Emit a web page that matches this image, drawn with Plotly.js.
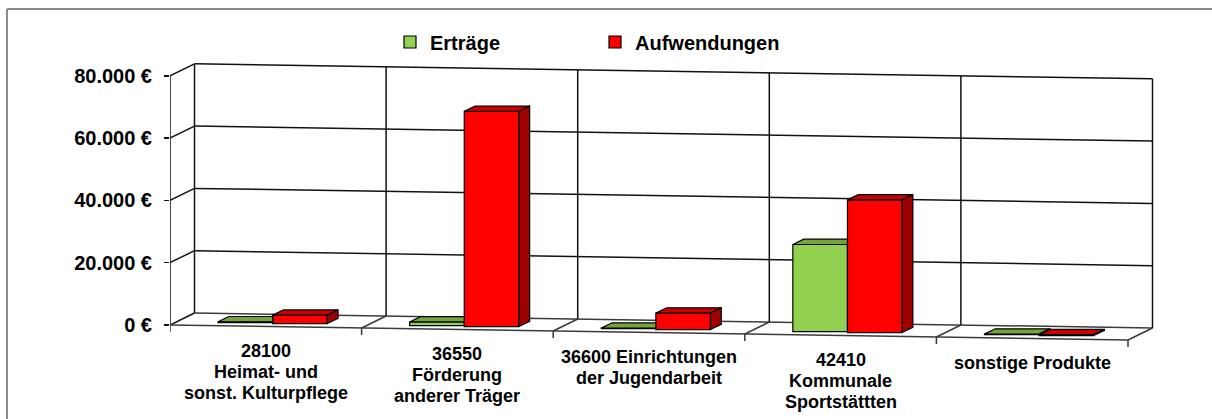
<!DOCTYPE html>
<html>
<head>
<meta charset="utf-8">
<script src="https://cdn.plot.ly/plotly-3.0.1.min.js"></script>
<style>html,body{margin:0;padding:0;background:#fff;overflow:hidden;}#chart{width:1212px;height:419px;}</style>
</head>
<body>
<div id="chart"></div>
<script>
// ---- data ----
const categories = [
  ['28100', 'Heimat- und', 'sonst. Kulturpflege'],
  ['36550', 'Förderung', 'anderer Träger'],
  ['36600 Einrichtungen', 'der Jugendarbeit'],
  ['42410', 'Kommunale', 'Sportstättten'],
  ['sonstige Produkte']
];
const seriesNames = ['Erträge', 'Aufwendungen'];
const ertraege = [300, 1200, 200, 28000, 200];
const aufwendungen = [2700, 69100, 5300, 42600, 300];
const yTicks = [0, 20000, 40000, 60000, 80000];
const yTickLabels = ['0 €', '20.000 €', '40.000 €', '60.000 €', '80.000 €'];

// ---- styling / pseudo-3D geometry ----
const FONT = 'Liberation Sans, Arial, sans-serif';
const PL = 170, PR = 1165, PT = 55, PB = 350, ZERO = 325;
const CAT_PX = 191.6;
const K = 62.3 / 20000;            // px per value unit
const DEPTH_X = 24.5 / CAT_PX;     // full depth, in category units
const DEPTH_Y = 12 / K;            // full depth, in value units (upwards)
const SLOPE = 3.0 / K;             // per category unit, value units (downwards)
const NC = categories.length;
const YMAX = yTicks[yTicks.length - 1];

function P(u, v, d) { return [u + d * DEPTH_X, v - u * SLOPE + d * DEPTH_Y]; }

const shapes = [];
function seg(a, b, color, width) {
  shapes.push({type: 'line', xref: 'x', yref: 'y', layer: 'below',
    x0: a[0], y0: a[1], x1: b[0], y1: b[1], line: {color: color, width: width}});
}
const GRID = '#111111', FLOOR = '#3a3a3a';
yTicks.forEach(v => {
  seg(P(0, v, 1), P(NC, v, 1), v === 0 ? FLOOR : GRID, 1.5);
  seg(P(0, v, 0), P(0, v, 1), GRID, 1.5);
});
for (let u = 0; u <= NC; u++) {
  seg(P(u, 0, 1), P(u, YMAX, 1), GRID, 1.5);
  if (u > 0) seg(P(u, 0, 0), P(u, 0, 1), FLOOR, 1.5);
  const f = P(u, 0, 0);
  seg(f, [f[0], f[1] - 7 / K], FLOOR, 1.5);
}
seg(P(0, 0, 0), P(NC, 0, 0), FLOOR, 1.5);
seg(P(0, 0, 0), P(0, YMAX, 0), GRID, 1.5);

// outer frame (top and left edges visible)
const pw = PR - PL, ph = PB - PT;
const fx0 = (7 - PL) / pw, fx1 = (1240 - PL) / pw, fy0 = (PB - 9) / ph, fy1 = (PB - 450) / ph;
shapes.push({type: 'line', xref: 'paper', yref: 'paper', layer: 'below', x0: fx0, x1: fx1, y0: fy0, y1: fy0,
  line: {color: '#8a8a8a', width: 2}});
shapes.push({type: 'line', xref: 'paper', yref: 'paper', layer: 'below', x0: fx0, x1: fx0, y0: fy0, y1: fy1,
  line: {color: '#8a8a8a', width: 2}});

// ---- bars ----
const GROUP_START = 0.215, BW = 0.285, DF = 0.28, DB = 0.72;
const DDX = (DB - DF) * DEPTH_X, DDY = (DB - DF) * DEPTH_Y;
const colors = [
  {front: '#92D050', top: '#74A53A', side: '#5E8A2E'},
  {front: '#FF0000', top: '#CC0000', side: '#A00000'}
];
const allVals = [ertraege, aufwendungen];

function barGeom(i, s) {
  const uL = i + GROUP_START + s * BW, uR = uL + BW, uc = (uL + uR) / 2;
  const base = -uc * SLOPE + DF * DEPTH_Y;
  const v = allVals[s][i];
  return {xL: uL + DF * DEPTH_X, xR: uR + DF * DEPTH_X, xc: uc + DF * DEPTH_X, base: base, top: base + v, v: v};
}

const traces = [];
// front faces as bar traces
allVals.forEach((vals, s) => {
  const g = vals.map((_, i) => barGeom(i, s));
  traces.push({
    type: 'bar', name: seriesNames[s],
    x: g.map(o => o.xc), y: vals, base: g.map(o => o.base), width: BW,
    marker: {color: colors[s].front, line: {color: '#000', width: 1.2}},
    hoverinfo: 'skip'
  });
});
function poly(xs, ys, fill) {
  traces.push({type: 'scatter', mode: 'lines', x: xs.concat([xs[0]]), y: ys.concat([ys[0]]),
    fill: 'toself', fillcolor: fill, line: {color: '#000', width: 1.2},
    showlegend: false, hoverinfo: 'skip'});
}
for (let i = 0; i < NC; i++) {
  const g0 = barGeom(i, 0), g1 = barGeom(i, 1);
  // green top face (clipped by taller red front face)
  if (g1.top >= g0.top + DDY) {
    poly([g0.xL, g0.xR, g0.xR, g0.xL + DDX], [g0.top, g0.top, g0.top + DDY, g0.top + DDY], colors[0].top);
  } else {
    poly([g0.xL, g0.xR, g0.xR + DDX, g0.xL + DDX], [g0.top, g0.top, g0.top + DDY, g0.top + DDY], colors[0].top);
    if (g0.top > g1.top) poly([g0.xR, g0.xR, g0.xR + DDX, g0.xR + DDX], [g0.base, g0.top, g0.top + DDY, g0.base + DDY], colors[0].side);
  }
  // red top and side faces
  poly([g1.xL, g1.xR, g1.xR + DDX, g1.xL + DDX], [g1.top, g1.top, g1.top + DDY, g1.top + DDY], colors[1].top);
  poly([g1.xR, g1.xR, g1.xR + DDX, g1.xR + DDX], [g1.base, g1.top, g1.top + DDY, g1.base + DDY], colors[1].side);
}

// ---- category labels ----
const annotations = [];
categories.forEach((lines, i) => {
  const p = P(i + 0.5, 0, 0);
  lines.forEach((t, j) => {
    annotations.push({xref: 'x', yref: 'y', x: p[0], y: p[1], text: t, showarrow: false,
      xanchor: 'center', yanchor: 'middle', yshift: -(24 + j * 21),
      font: {family: FONT, size: 18, color: '#000', weight: 'bold'}});
  });
});

const layout = {
  width: 1212, height: 419,
  margin: {l: PL, r: 1212 - PR, t: PT, b: 419 - PB, pad: 0},
  paper_bgcolor: '#fff', plot_bgcolor: 'rgba(0,0,0,0)',
  barmode: 'overlay', hovermode: false,
  xaxis: {range: [0, pw / CAT_PX], visible: false, fixedrange: true},
  yaxis: {range: [-(PB - ZERO) / K, (ZERO - PT) / K], tickmode: 'array', tickvals: yTicks, ticktext: yTickLabels,
    showgrid: false, zeroline: false, showline: false, ticks: 'outside', ticklen: 5, tickwidth: 1.5, tickcolor: '#111',
    ticklabelstandoff: 8,
    tickfont: {family: FONT, size: 20, color: '#000', weight: 'bold'}, fixedrange: true},
  showlegend: true,
  legend: {orientation: 'h', x: (390 - PL) / pw, xanchor: 'left', y: (PB - 42) / ph, yanchor: 'middle',
    bgcolor: 'rgba(0,0,0,0)', entrywidth: 160, entrywidthmode: 'pixels', traceorder: 'normal',
    font: {family: FONT, size: 20, color: '#000', weight: 'bold'}},
  shapes: shapes, annotations: annotations
};

Plotly.newPlot('chart', traces, layout, {displayModeBar: false, staticPlot: true});
</script>
</body>
</html>
